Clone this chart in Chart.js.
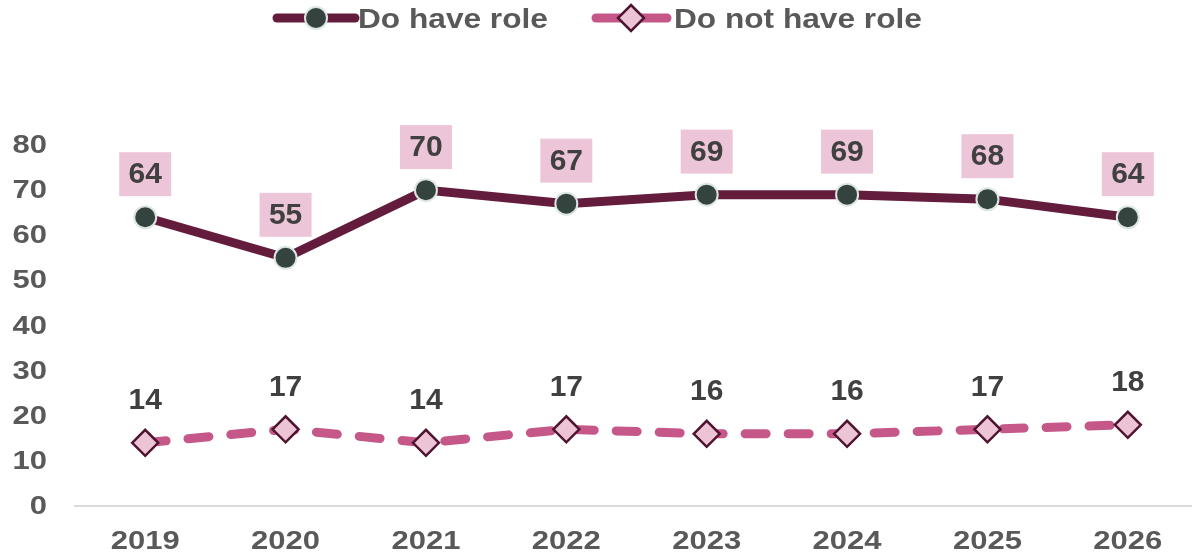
<!DOCTYPE html>
<html>
<head>
<meta charset="utf-8">
<script src="https://cdn.jsdelivr.net/npm/chart.js@4/dist/chart.umd.min.js"></script>
<style>
  html, body { margin: 0; padding: 0; background: #ffffff; overflow: hidden; }
  #wrap { width: 1198px; height: 560px; position: relative; }
</style>
</head>
<body>
<div id="wrap"><canvas id="c"></canvas></div>
<script>
const categories = ['2019', '2020', '2021', '2022', '2023', '2024', '2025', '2026'];
const haveRole = [64, 55, 70, 67, 69, 69, 68, 64];
const notHaveRole = [14, 17, 14, 17, 16, 16, 17, 18];
const seriesNames = ['Do have role', 'Do not have role'];
const yTicks = [0, 10, 20, 30, 40, 50, 60, 70, 80];

const C_DARK = '#641C3D';
const C_DARK_PT = '#35433F';
const C_DARK_PT_BORDER = '#DCE6E2';
const C_PINK = '#C65889';
const C_PINK_PT = '#EDC4D6';
const C_PINK_PT_BORDER = '#4E1430';
const C_LABEL_BOX = '#EDC5D8';
const C_TEXT = '#404040';
const C_TICK = '#595959';
const FONT = '"Liberation Sans", Arial, sans-serif';
const AXIS_FONT = 'bold 25px ' + FONT;
const AXIS_STRETCH = 1.24;

function drawCircleMarker(ctx, x, y) {
  ctx.beginPath();
  ctx.arc(x, y, 11, 0, Math.PI * 2);
  ctx.fillStyle = C_DARK_PT;
  ctx.fill();
  ctx.lineWidth = 2;
  ctx.strokeStyle = C_DARK_PT_BORDER;
  ctx.stroke();
}
function drawDiamondMarker(ctx, x, y) {
  const r = 13;
  ctx.beginPath();
  ctx.moveTo(x, y - r);
  ctx.lineTo(x + r, y);
  ctx.lineTo(x, y + r);
  ctx.lineTo(x - r, y);
  ctx.closePath();
  ctx.fillStyle = C_PINK_PT;
  ctx.fill();
  ctx.lineWidth = 2.5;
  ctx.strokeStyle = C_PINK_PT_BORDER;
  ctx.stroke();
}

function stretchedText(ctx, text, x, y, align, sx) {
  ctx.save();
  ctx.translate(x, y);
  ctx.scale(sx, 1);
  ctx.textAlign = align;
  ctx.textBaseline = 'alphabetic';
  ctx.fillText(text, 0, 0);
  ctx.restore();
}

const customLegend = {
  id: 'customLegend',
  afterDraw(chart) {
    const ctx = chart.ctx;
    ctx.save();
    const y = 18;
    const items = [
      { x0: 277, x1: 355, mx: 316, color: C_DARK, marker: drawCircleMarker, tx: 358, text: seriesNames[0] },
      { x0: 596, x1: 667, mx: 631, color: C_PINK, marker: drawDiamondMarker, tx: 674, text: seriesNames[1] }
    ];
    items.forEach(it => {
      ctx.beginPath();
      ctx.moveTo(it.x0, y);
      ctx.lineTo(it.x1, y);
      ctx.lineWidth = 9;
      ctx.lineCap = 'round';
      ctx.strokeStyle = it.color;
      ctx.stroke();
      it.marker(ctx, it.mx, y);
      ctx.font = 'bold 28px ' + FONT;
      ctx.fillStyle = C_TICK;
      stretchedText(ctx, it.text, it.tx, 28, 'left', 1.13);
    });
    ctx.restore();
  }
};

const axisLabels = {
  id: 'axisLabels',
  afterDraw(chart) {
    const ctx = chart.ctx;
    const xs = chart.scales.x;
    const ys = chart.scales.y;
    ctx.save();
    ctx.font = AXIS_FONT;
    ctx.fillStyle = C_TICK;
    xs.ticks.forEach((t, i) => {
      stretchedText(ctx, String(t.label), xs.getPixelForTick(i), xs.top + 43, 'center', AXIS_STRETCH);
    });
    ys.ticks.forEach((t) => {
      stretchedText(ctx, String(t.label), chart.chartArea.left - 28, ys.getPixelForValue(t.value) + 8, 'right', AXIS_STRETCH);
    });
    ctx.restore();
  }
};

const valueLabels = {
  id: 'valueLabels',
  afterDatasetsDraw(chart) {
    const ctx = chart.ctx;
    ctx.save();
    ctx.font = 'bold 30px ' + FONT;
    ctx.textAlign = 'center';
    ctx.textBaseline = 'middle';
    chart.data.datasets.forEach((ds, di) => {
      const meta = chart.getDatasetMeta(di);
      meta.data.forEach((pt, i) => {
        const v = ds.data[i];
        if (di === 0) {
          const cy = pt.y - 43;
          ctx.fillStyle = C_LABEL_BOX;
          ctx.fillRect(pt.x - 26, cy - 22, 52, 44);
          ctx.fillStyle = C_TEXT;
          ctx.fillText(String(v), pt.x, cy + 1);
        } else {
          ctx.fillStyle = C_TEXT;
          ctx.fillText(String(v), pt.x, pt.y - 42);
        }
      });
    });
    ctx.restore();
  }
};

new Chart(document.getElementById('c'), {
  type: 'line',
  data: {
    labels: categories,
    datasets: [
      {
        label: seriesNames[0],
        data: haveRole,
        borderColor: C_DARK,
        borderWidth: 9,
        pointStyle: 'circle',
        pointRadius: 11,
        pointHoverRadius: 11,
        pointBackgroundColor: C_DARK_PT,
        pointBorderColor: C_DARK_PT_BORDER,
        pointBorderWidth: 2,
        tension: 0,
        fill: false
      },
      {
        label: seriesNames[1],
        data: notHaveRole,
        borderColor: C_PINK,
        borderWidth: 9,
        borderDash: [21, 22],
        borderCapStyle: 'round',
        pointStyle: 'rectRot',
        pointRadius: 13,
        pointHoverRadius: 13,
        pointBackgroundColor: C_PINK_PT,
        pointBorderColor: C_PINK_PT_BORDER,
        pointBorderWidth: 2.5,
        tension: 0,
        fill: false
      }
    ]
  },
  options: {
    responsive: true,
    maintainAspectRatio: false,
    animation: false,
    layout: { autoPadding: false, padding: { top: 145, left: 14, right: 0, bottom: 0 } },
    plugins: {
      legend: { display: false },
      tooltip: { enabled: false }
    },
    scales: {
      x: {
        offset: true,
        grid: { display: false, drawTicks: false },
        border: { display: true, color: '#D9D9D9', width: 2 },
        ticks: { display: false, autoSkip: false, maxRotation: 0 },
        afterFit(scale) {
          scale.height = 54;
          scale.paddingLeft = 0;
          scale.paddingRight = 0;
        }
      },
      y: {
        min: 0,
        max: 80,
        afterBuildTicks(scale) { scale.ticks = yTicks.map(v => ({ value: v })); },
        grid: { display: false, drawTicks: false },
        border: { display: false },
        ticks: { display: false },
        afterFit(scale) {
          scale.width = 61;
          scale.paddingTop = 0;
          scale.paddingBottom = 0;
        }
      }
    }
  },
  plugins: [customLegend, axisLabels, valueLabels]
});
</script>
</body>
</html>
